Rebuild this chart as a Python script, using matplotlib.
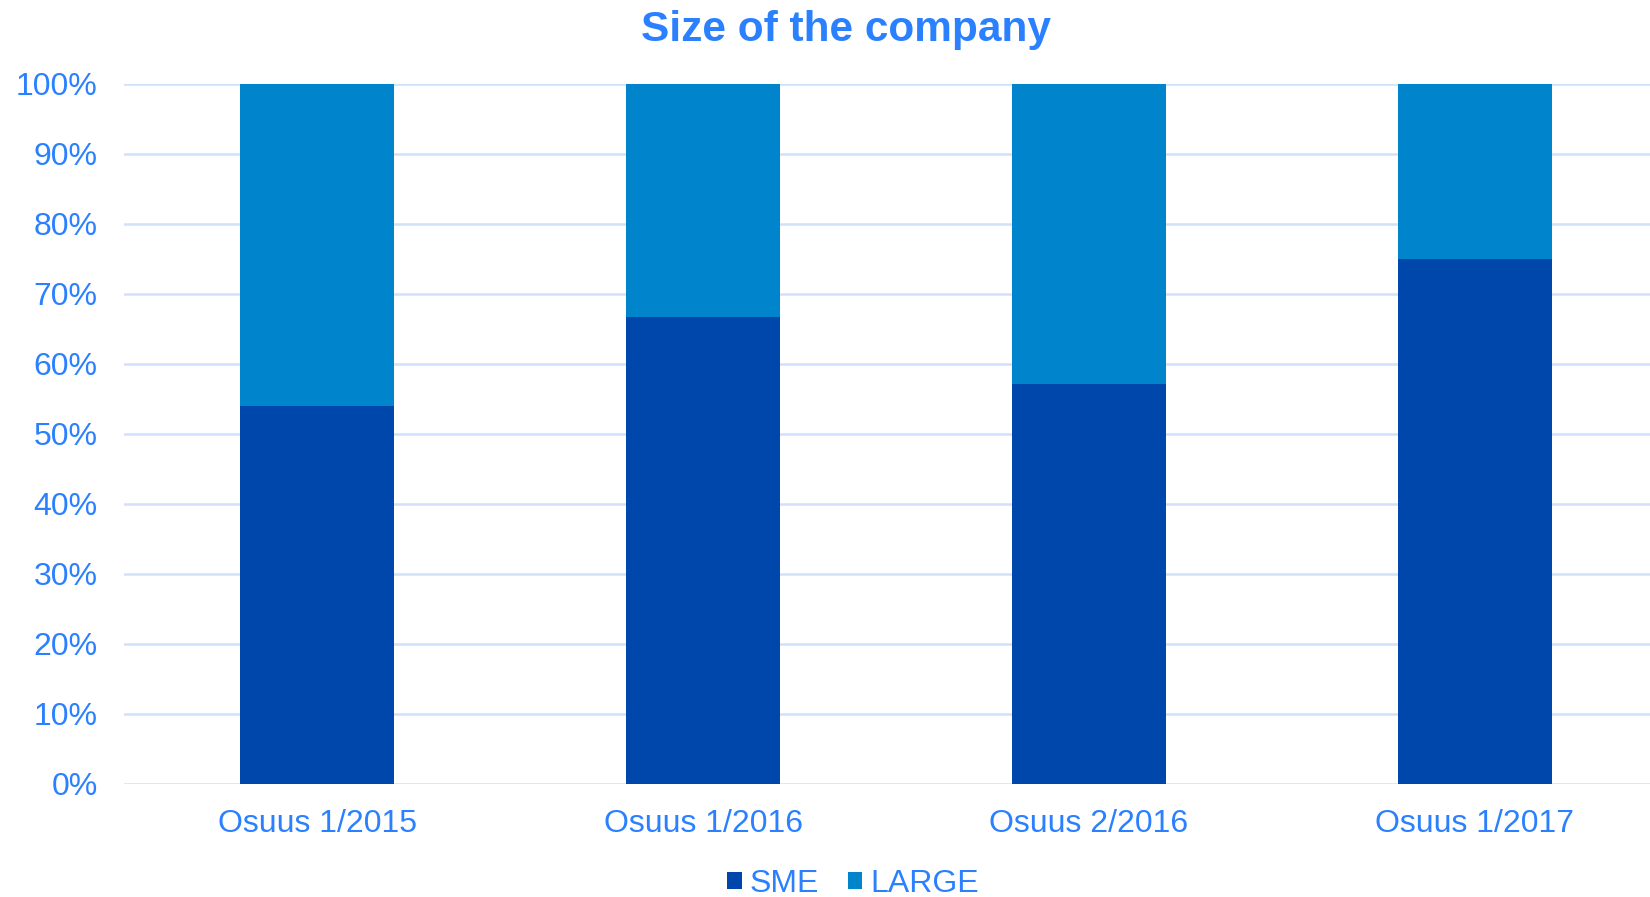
import numpy as np
import matplotlib.pyplot as plt

plt.rcParams['font.family'] = ['Liberation Sans', 'DejaVu Sans']

# data (share of respondents)
periods = ['Osuus 1/2015', 'Osuus 1/2016', 'Osuus 2/2016', 'Osuus 1/2017']
sme = [0.54, 0.667, 0.571, 0.75]
large = [0.46, 0.333, 0.429, 0.25]

text_col = '#2A80FF'
sme_col = '#0047AB'
large_col = '#0085CC'
grid_col = '#D0E1F9'

fig = plt.figure(figsize=(16.5, 8.97), dpi=100)
ax = fig.add_axes([0.0752, 0.126, 1.0109 - 0.0752, 0.7804])

x = np.arange(len(periods))
ax.bar(x, sme, width=0.4, color=sme_col, label='SME', zorder=2)
ax.bar(x, large, width=0.4, bottom=sme, color=large_col, label='LARGE', zorder=2)

ax.set_xlim(-0.5, 3.5)
ax.set_ylim(0, 1)
ax.set_yticks(np.arange(0, 1.01, 0.1))
ax.set_yticklabels(['{}%'.format(int(round(v * 100))) for v in np.arange(0, 1.01, 0.1)])
ax.set_xticks(x)
ax.set_xticklabels(periods)
ax.tick_params(axis='y', length=0, pad=19, labelsize=23, labelcolor=text_col)
ax.tick_params(axis='x', length=0, pad=18, labelsize=23, labelcolor=text_col)
ax.yaxis.grid(True, color=grid_col, lw=1.8, zorder=0)
ax.set_axisbelow(True)
for s in ax.spines.values():
    s.set_visible(False)

fig.text(0.513, 0.967, 'Size of the company', ha='center', va='center',
         fontsize=30.5, fontweight='bold', color=text_col)

leg = fig.legend(loc='center', bbox_to_anchor=(0.517, 0.015), ncol=2, frameon=False,
                 fontsize=23, handlelength=0.45, handleheight=0.45, handletextpad=0.25,
                 columnspacing=0.9)
for t in leg.get_texts():
    t.set_color(text_col)

fig.savefig('out.png', dpi=100)
